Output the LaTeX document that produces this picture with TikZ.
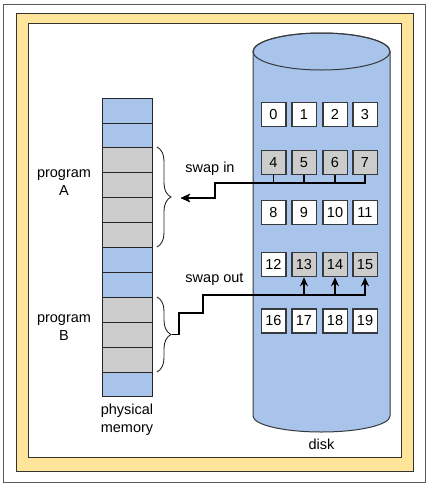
\documentclass[tikz,border=0pt]{standalone}
\usepackage{fontspec}
\setmainfont{Liberation Sans}
\usetikzlibrary{decorations.pathreplacing,arrows.meta}
\definecolor{memblue}{HTML}{A9C4EB}
\definecolor{memgray}{HTML}{CCCCCC}
\definecolor{frameyellow}{HTML}{FFE599}
\definecolor{edgegray}{HTML}{36393D}
\tikzset{
	cell/.style={draw=black!85, line width=0.8pt, minimum width=50pt, minimum height=24.9pt, inner sep=0pt},
	blk/.style={draw=edgegray, line width=1.5pt, minimum width=24.5pt, minimum height=24pt, inner sep=0pt, font=\fontsize{14.5}{17}\selectfont},
	lbl/.style={align=center, font=\fontsize{14.5}{18}\selectfont},
	link/.style={draw=black, line width=1.4pt, -{Stealth[length=9pt,width=8pt]}},
	curly/.style={draw=black!85, line width=0.9pt, decorate, decoration={brace, amplitude=14pt}}
}
\begin{document}
\begin{tikzpicture}[x=1pt, y=-1pt]
	\useasboundingbox (0,0) rectangle (428,488);
	\filldraw[fill=white, draw=black!65, line width=0.8pt] (3,4) rectangle (425,482);
	\filldraw[fill=frameyellow, draw=black!80, line width=1pt] (16,13) rectangle (413,471);
	\filldraw[fill=white, draw=black!80, line width=1pt] (28,23) rectangle (401,457);
	\foreach \i/\c in {1/memblue,2/memblue,3/memgray,4/memgray,5/memgray,6/memgray,7/memblue,8/memblue,9/memgray,10/memgray,11/memgray,12/memblue}
		\node[cell, fill=\c] (m\i) at (127,{98+(\i-0.5)*24.9}) {};
	\draw[curly] (157,147) -- (157,247);
	\draw[curly] (157,297) -- (157,372);
	\coordinate (inA) at (181,198);
	\coordinate (tipB) at (172,334.5);
	\node[lbl] (progA) at (64,183) {program\\A};
	\node[lbl] (progB) at (64,328) {program\\B};
	\node[lbl] (physmem) at (127,420) {physical\\memory};
	\filldraw[fill=memblue, draw=edgegray, line width=1pt] (253,51.5) -- (253,416) arc(180:0:68.5 and 16) -- (390,51.5) arc(0:-180:68.5 and 18.5) -- cycle;
	\draw[draw=edgegray, line width=1pt] (321.5,51.5) ellipse (68.5 and 18.5);
	\node[lbl] (disk) at (321.5,444) {disk};
	\foreach \y [count=\r from 0] in {114.5,162.5,212.5,264.5,321}
		\foreach \x [count=\c from 0] in {273.5,304,335,365} {
			\pgfmathtruncatemacro\n{4*\r+\c}
			\def\fc{white}
			\ifnum\n>3 \ifnum\n<8 \def\fc{memgray}\fi\fi
			\ifnum\n>12 \ifnum\n<16 \def\fc{memgray}\fi\fi
			\node[blk, fill=\fc] (b\n) at (\x,\y) {\n};
		}
	\node[lbl] (swapin) at (210,169) {swap in};
	\node[lbl] (swapout) at (214.5,279) {swap out};
	\foreach \n in {4,5,6,7}
		\draw[link] (b\n.south) |- (215,183) |- (inA);
	\foreach \n in {13,14,15}
		\draw[link] (tipB) -| (179,313) -| (203,295) -| (b\n.south);
\end{tikzpicture}
\end{document}
